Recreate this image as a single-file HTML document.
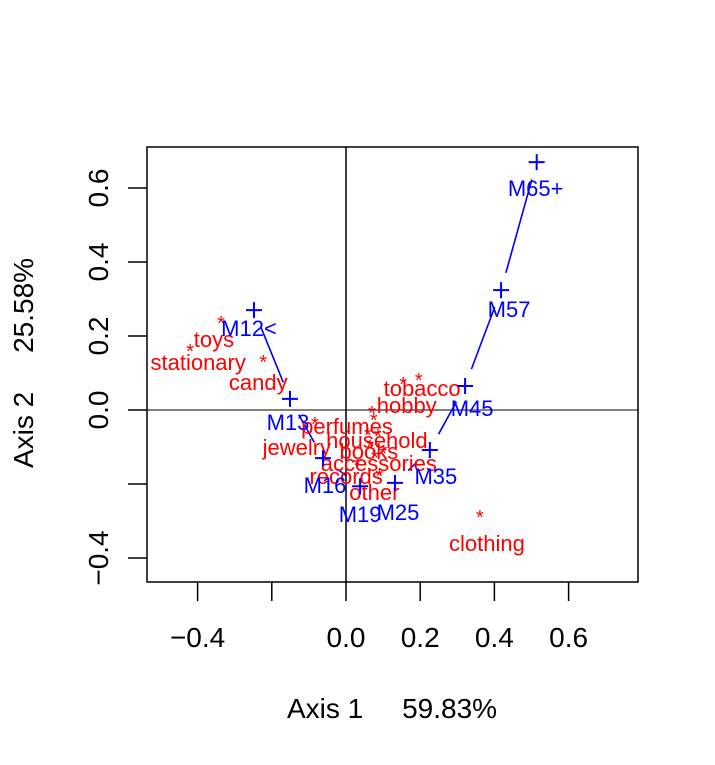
<!DOCTYPE html>
<html><head><meta charset="utf-8"><style>
body{margin:0;background:#fff}
svg{display:block;font-family:"Liberation Sans",sans-serif}
</style></head><body>
<svg id="c" width="715" height="765"></svg>
<script>
const rowNames=["toys","stationary","candy","tobacco","hobby","perfumes","jewelry","household","books","accessories","records","other","clothing","s1","s2","s3"];
const rowX=[-0.337,-0.420,-0.223,0.154,0.196,0.070,-0.084,0.059,0.086,0.075,0.030,0.090,0.361,0.078,0.065,0.100];
const rowY=[0.243,0.168,0.138,0.078,0.089,0.000,-0.030,-0.059,-0.062,-0.019,-0.140,-0.170,-0.281,-0.120,-0.090,-0.110];
const rowLabelDx=[-7,8,-5,19,-12,-25,-18,9,-9,5,-11,-5,7,0,0,0];
const rowLabelDy=[19,14,23,7,28,16,26,8,18,46,14,19,29,0,0,0];
const colNames=["M12<","M13","M16","M19","M25","M35","M45","M57","M65+"];
const colX=[-0.248,-0.151,-0.062,0.038,0.132,0.226,0.321,0.418,0.514];
const colY=[0.270,0.030,-0.130,-0.206,-0.197,-0.108,0.065,0.324,0.670];
const colLabelDx=[-5,-2,2,0,3,6,7,8,-1];
const colLabelDy=[18,23,27,28,29,26,22,19,26];
const xTicks=[-0.4,-0.2,0.0,0.2,0.4,0.6];
const xTickLabels=["\u22120.4","","0.0","0.2","0.4","0.6"];
const yTicks=[-0.4,-0.2,0.0,0.2,0.4,0.6];
const yTickLabels=["\u22120.4","","0.0","0.2","0.4","0.6"];

const L=147,R=638,T=147,B=582;
const sx=v=>346+v*371, sy=v=>410-v*370;
const svg=document.getElementById('c');
const NS="http://www.w3.org/2000/svg";
function mk(t,a,p){const e=document.createElementNS(NS,t);for(const k in a)e.setAttribute(k,a[k]);(p||svg).appendChild(e);return e;}

let e=mk('line',{x1:L,x2:R,y1:sy(0),y2:sy(0),stroke:'#000','stroke-width':1});


e=mk('line',{x1:sx(0),x2:sx(0),y1:T,y2:B,stroke:'#000','stroke-width':1.5});



for(let i=0;i<colX.length-1;i++){
  const x1=sx(colX[i]),y1=sy(colY[i]),x2=sx(colX[i+1]),y2=sy(colY[i+1]);
  const d=Math.hypot(x2-x1,y2-y1),tr=18;
  if(d<=2*tr+2)continue;
  const ux=(x2-x1)/d,uy=(y2-y1)/d;
  e=mk('line',{x1:x1+ux*tr,y1:y1+uy*tr,x2:x2-ux*tr,y2:y2-uy*tr,stroke:'#0000ff','stroke-width':1.6});
  
  
}
for(let i=0;i<rowNames.length;i++){
  const x=sx(rowX[i]),y=sy(rowY[i]);
  e=mk('text',{x:x,y:y+10,'text-anchor':'middle','font-size':20,fill:'#ff0000'});e.textContent='*';
  
  
  if(i<13){
    e=mk('text',{x:x+rowLabelDx[i],y:y+rowLabelDy[i]+8,'text-anchor':'middle','font-size':22,fill:'#ff0000'});e.textContent=rowNames[i];
    
    
  }
}
for(let i=0;i<colNames.length;i++){
  const x=sx(colX[i]),y=sy(colY[i]);
  e=mk('path',{d:`M${x-8},${y}H${x+8}M${x},${y-8}V${y+8}`,stroke:'#0000ff','stroke-width':2});
  
  
  e=mk('text',{x:x+colLabelDx[i],y:y+colLabelDy[i]+8,'text-anchor':'middle','font-size':22,fill:'#0000ff'});e.textContent=colNames[i];
  
  
}
e=mk('rect',{x:L,y:T,width:R-L,height:B-T,fill:'none',stroke:'#000','stroke-width':1.5});


for(let i=0;i<xTicks.length;i++){
  const x=sx(xTicks[i]);
  e=mk('line',{x1:x,x2:x,y1:B,y2:B+19,stroke:'#000','stroke-width':1.5});
  
  
  e=mk('text',{x:x,y:647,'text-anchor':'middle','font-size':28});e.textContent=xTickLabels[i];
  
  
}
for(let i=0;i<yTicks.length;i++){
  const y=sy(yTicks[i]);
  e=mk('line',{x1:L-19,x2:L,y1:y,y2:y,stroke:'#000','stroke-width':1.5});
  
  
  e=mk('text',{x:0,y:0,'text-anchor':'middle','font-size':28,transform:`translate(108,${y}) rotate(-90)`});e.textContent=yTickLabels[i];
  
  
}
e=mk('text',{x:392,y:718,'text-anchor':'middle','font-size':28});e.textContent='Axis 1\u00a0\u00a0\u00a0\u00a0\u00a059.83%';


e=mk('text',{x:0,y:0,'text-anchor':'middle','font-size':28,transform:'translate(33,363) rotate(-90)'});e.textContent='Axis 2\u00a0\u00a0\u00a0\u00a0\u00a025.58%';


</script>
</body></html>
